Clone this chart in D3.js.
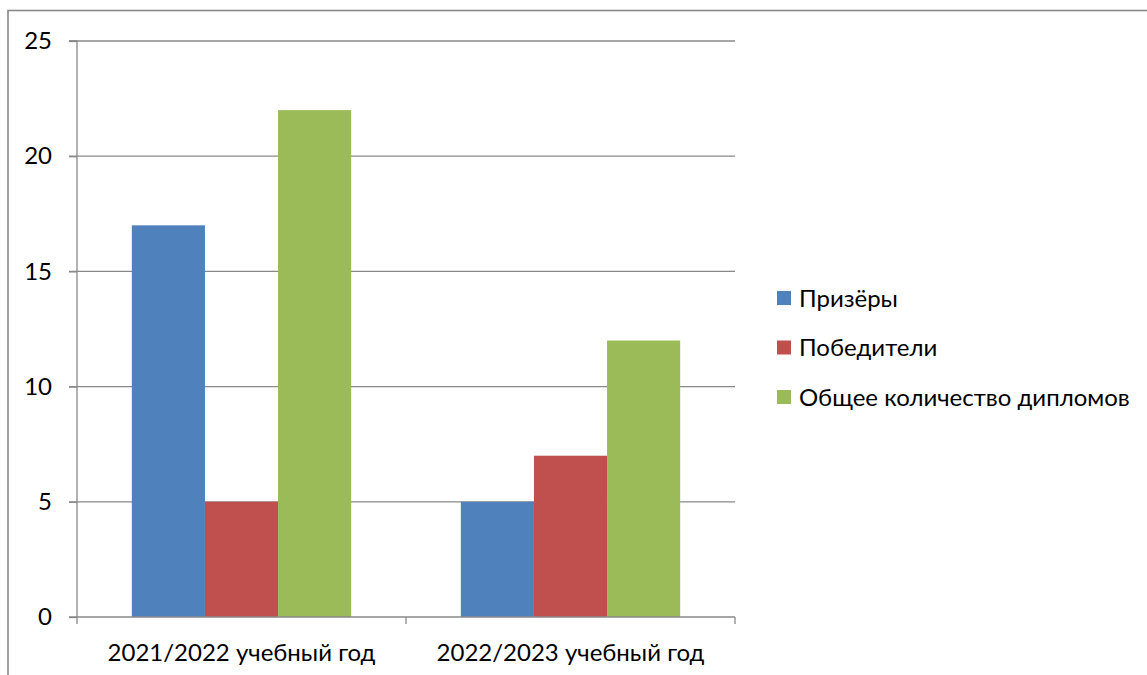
<!DOCTYPE html>
<html><head><meta charset="utf-8">
<script src="https://cdn.jsdelivr.net/npm/d3@7"></script>
<style>body{margin:0;background:#fff}svg{display:block}text{font-family:Lato,"Open Sans",sans-serif;fill:#000}</style>
</head><body>
<svg id="c" width="1147" height="675"></svg>
<script>
const categories = ["2021/2022 учебный год", "2022/2023 учебный год"];
const seriesNames = ["Призёры", "Победители", "Общее количество дипломов"];
const prizers = [17, 5];
const winners = [5, 7];
const totalDiplomas = [22, 12];
const yTicks = [0, 5, 10, 15, 20, 25];
const colors = ["#4F81BD", "#C0504D", "#9BBB59"];
const seriesValues = [prizers, winners, totalDiplomas];

const svg = d3.select("#c");
const grid = "#898989";
const fs = 24;

svg.append("rect").attr("x", 8).attr("y", 10.5).attr("width", 1300).attr("height", 800)
  .attr("fill", "none").attr("stroke", grid).attr("stroke-width", 1.6);

const x0 = d3.scaleBand().domain(categories).range([77, 735]).paddingInner(0).paddingOuter(0);
const x1 = d3.scaleBand().domain(seriesNames).range([0, x0.bandwidth()]).paddingInner(0).paddingOuter(0.75);
const y = d3.scaleLinear().domain([0, 25]).range([617, 41]);

// gridlines
svg.append("g").selectAll("line").data(yTicks.filter(d => d > 0)).join("line")
  .attr("x1", 69).attr("x2", 735).attr("y1", d => y(d)).attr("y2", d => y(d))
  .attr("stroke", grid).attr("stroke-width", 1.3);

// bars
const groups = svg.append("g").selectAll("g").data(categories).join("g")
  .attr("transform", d => `translate(${x0(d)},0)`);
groups.selectAll("rect").data((c, ci) => seriesNames.map((s, si) => ({s, si, v: seriesValues[si][ci]}))).join("rect")
  .attr("x", d => x1(d.s)).attr("width", x1.bandwidth())
  .attr("y", d => y(d.v)).attr("height", d => y(0) - y(d.v))
  .attr("fill", d => colors[d.si]);

// y axis
const yAxis = d3.axisLeft(y).tickValues(yTicks).tickSize(8).tickPadding(17).tickFormat(d3.format("d"));
const ya = svg.append("g").attr("transform", "translate(77,0)").call(yAxis);
ya.select(".domain").attr("stroke", grid).attr("stroke-width", 1.3).attr("d", `M-8,${y(25)}H0V${y(0)}`);
ya.selectAll(".tick line").attr("stroke", grid).attr("stroke-width", 1.3);
ya.selectAll("text").attr("font-size", fs).attr("font-family", "Lato").attr("fill", "#000");

// x axis
const xa = svg.append("g").attr("transform", `translate(0,${y(0)})`);
xa.append("line").attr("x1", 69).attr("x2", 735).attr("y1", 0).attr("y2", 0).attr("stroke", grid).attr("stroke-width", 1.3);
const xt = [77, ...categories.map(c => x0(c) + x0.bandwidth())];
xa.selectAll("line.t").data(xt).join("line").attr("class", "t")
  .attr("x1", d => d).attr("x2", d => d).attr("y1", 0).attr("y2", 7).attr("stroke", grid).attr("stroke-width", 1.3);
xa.selectAll("text").data(categories).join("text")
  .attr("x", d => x0(d) + x0.bandwidth() / 2).attr("y", 44)
  .attr("text-anchor", "middle").attr("font-size", fs).text(d => d);

// legend
const lg = svg.append("g").selectAll("g").data(seriesNames).join("g")
  .attr("transform", (d, i) => `translate(777,${298 + i * 49.5})`);
lg.append("rect").attr("x", 0).attr("y", -7).attr("width", 14).attr("height", 14).attr("fill", (d, i) => colors[i]);
lg.append("text").attr("x", 22).attr("y", 8.5).attr("font-size", fs).text(d => d);
</script>
</body></html>
